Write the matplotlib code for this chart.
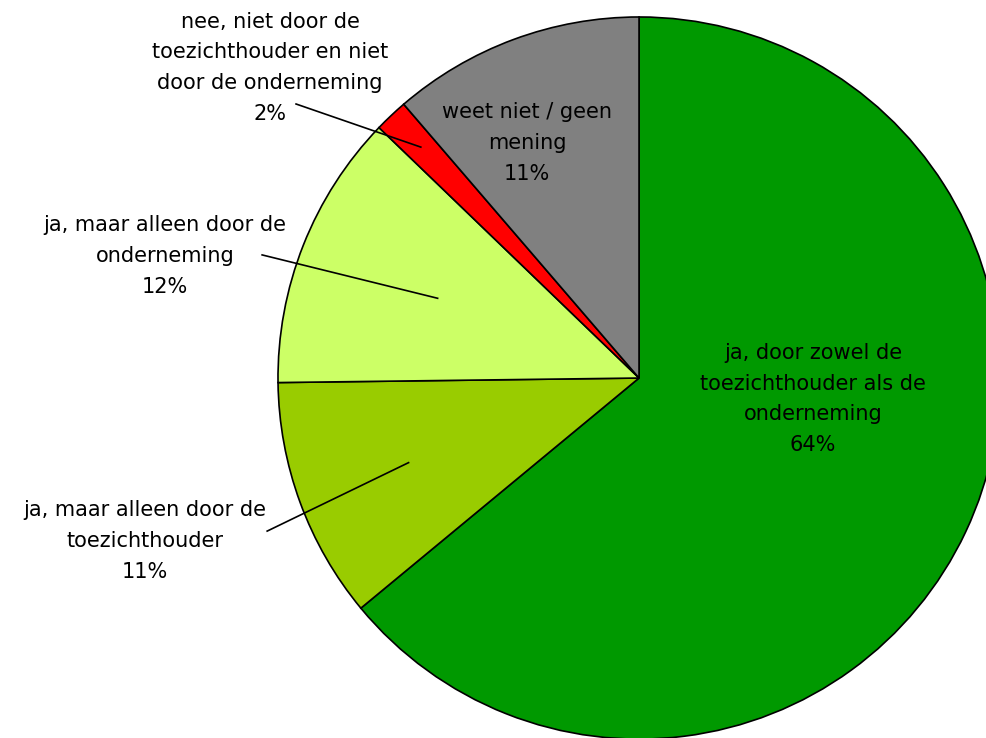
import numpy as np
import matplotlib.pyplot as plt

# slices, clockwise from 12 o'clock
labels = ["ja, door zowel de\ntoezichthouder als de\nonderneming",
          "ja, maar alleen door de\ntoezichthouder",
          "ja, maar alleen door de\nonderneming",
          "nee, niet door de\ntoezichthouder en niet\ndoor de onderneming",
          "weet niet / geen\nmening"]
values = [64.0, 10.8, 12.4, 1.5, 11.3]
colors = ["#009900", "#99CC00", "#CCFF66", "#FF0000", "#808080"]

# label placement (data units, pie radius = 1)
text_pos = [(0.482, -0.058), (-1.368, -0.452), (-1.313, 0.338),
            (-1.022, 0.859), (-0.310, 0.651)]
# leader line start (None = label inside slice), end radius
line_start = [None, (-1.030, -0.424), (-1.044, 0.341), (-0.950, 0.759), None]
line_r = [None, 0.68, 0.60, 0.88, None]

plt.rcParams['font.family'] = ['DejaVu Sans']

fig = plt.figure(figsize=(9.86, 7.38), dpi=100)
ax = fig.add_axes([0, 0, 1, 1])

wedges, _ = ax.pie(values, colors=colors, startangle=90, counterclock=False,
                   radius=1.0, wedgeprops=dict(edgecolor="black", linewidth=1.2))

for i, w in enumerate(wedges):
    pct = f"{round(values[i])}%"
    tx, ty = text_pos[i]
    ax.text(tx, ty, labels[i] + "\n" + pct, ha="center", va="center",
            fontsize=15, linespacing=1.68, color="black")
    if line_start[i] is not None:
        mid = np.deg2rad((w.theta1 + w.theta2) / 2)
        ex, ey = line_r[i] * np.cos(mid), line_r[i] * np.sin(mid)
        sx, sy = line_start[i]
        ax.plot([sx, ex], [sy, ey], color="black", linewidth=1.2)

ax.set_xlim(-1.770, 0.961)
ax.set_ylim(-0.997, 1.047)
ax.set_aspect("equal")
ax.axis("off")

fig.savefig("out.png", dpi=100)
